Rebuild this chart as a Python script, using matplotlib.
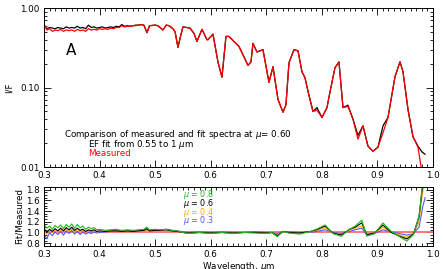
import numpy as np
import matplotlib
matplotlib.use('Agg')
import matplotlib.pyplot as plt
from matplotlib.ticker import (MultipleLocator, LogLocator, NullFormatter,
                               FixedLocator, FixedFormatter, FormatStrFormatter)

plt.rcParams['font.family'] = ['DejaVu Sans']
plt.rcParams['mathtext.fontset'] = 'dejavusans'

# ---- top panel: I/F spectra ----
wl = [0.300, 0.305, 0.310, 0.315, 0.320, 0.325, 0.330, 0.335, 0.340, 0.345,
      0.350, 0.355, 0.360, 0.365, 0.370, 0.375, 0.380, 0.385, 0.390, 0.395,
      0.400, 0.405, 0.410, 0.415, 0.420, 0.425, 0.430, 0.435, 0.440, 0.445,
      0.450, 0.455, 0.460, 0.465, 0.470, 0.475, 0.480, 0.4853, 0.490, 0.500,
      0.505, 0.5141, 0.520, 0.525, 0.5321, 0.536, 0.5411, 0.546, 0.5501, 0.5627,
      0.570, 0.5753, 0.5843, 0.5933, 0.5951, 0.6041, 0.6131, 0.6203, 0.6275, 0.6329,
      0.6419, 0.6509, 0.6671, 0.6725, 0.6761, 0.6833, 0.6941, 0.7049, 0.7121, 0.7211,
      0.7301, 0.7355, 0.7409, 0.7499, 0.7571, 0.7643, 0.7697, 0.7751, 0.7841, 0.7913,
      0.8003, 0.8093, 0.8147, 0.8237, 0.8309, 0.8381, 0.8471, 0.8561, 0.8651, 0.8741,
      0.8831, 0.8921, 0.9011, 0.9101, 0.9191, 0.9317, 0.9407, 0.9461, 0.9551, 0.9641,
      0.9731]

fit = [0.60, 0.55, 0.57, 0.56, 0.55, 0.57, 0.56, 0.55, 0.58, 0.56,
       0.57, 0.56, 0.59, 0.56, 0.57, 0.55, 0.61, 0.57, 0.58, 0.56,
       0.57, 0.58, 0.56, 0.57, 0.58, 0.57, 0.59, 0.58, 0.62, 0.59,
       0.60, 0.59, 0.60, 0.61, 0.61, 0.62, 0.61, 0.49, 0.60, 0.61,
       0.60, 0.53, 0.61, 0.60, 0.55, 0.50, 0.32, 0.45, 0.58, 0.56,
       0.48, 0.38, 0.54, 0.40, 0.40, 0.47, 0.21, 0.135, 0.44, 0.44,
       0.38, 0.33, 0.19, 0.21, 0.36, 0.28, 0.30, 0.116, 0.183, 0.071,
       0.049, 0.061, 0.205, 0.30, 0.29, 0.158, 0.133, 0.090, 0.050, 0.056,
       0.042, 0.056, 0.088, 0.178, 0.21, 0.056, 0.060, 0.040, 0.025, 0.033,
       0.0183, 0.0158, 0.0178, 0.033, 0.042, 0.137, 0.211, 0.158, 0.053, 0.024,
       0.0183]

measured = [0.64, 0.53, 0.55, 0.51, 0.53, 0.52, 0.54, 0.51, 0.53, 0.52,
            0.53, 0.51, 0.54, 0.52, 0.53, 0.51, 0.55, 0.53, 0.54, 0.53,
            0.55, 0.54, 0.55, 0.54, 0.56, 0.55, 0.57, 0.57, 0.60, 0.58,
            0.59, 0.59, 0.60, 0.60, 0.61, 0.62, 0.60, 0.49, 0.60, 0.61,
            0.60, 0.53, 0.61, 0.60, 0.55, 0.50, 0.32, 0.45, 0.58, 0.56,
            0.48, 0.38, 0.54, 0.40, 0.40, 0.47, 0.21, 0.135, 0.44, 0.44,
            0.38, 0.33, 0.19, 0.21, 0.36, 0.28, 0.30, 0.116, 0.183, 0.071,
            0.049, 0.061, 0.205, 0.30, 0.29, 0.158, 0.133, 0.090, 0.050, 0.052,
            0.042, 0.056, 0.088, 0.178, 0.21, 0.056, 0.058, 0.040, 0.0224, 0.033,
            0.0183, 0.0158, 0.0178, 0.027, 0.042, 0.137, 0.211, 0.158, 0.053, 0.024,
            0.0178]

fit_tail_wl = [0.9803, 0.9857]
fit_tail = [0.0155, 0.0145]
meas_tail_wl = [0.9803, 0.983]
meas_tail = [0.0085, 0.006]

# ---- bottom panel: Fit/Measured ratios ----
rwl = [0.300, 0.305, 0.310, 0.315, 0.320, 0.325, 0.330, 0.335, 0.340, 0.345,
       0.350, 0.355, 0.360, 0.365, 0.370, 0.375, 0.380, 0.385, 0.390, 0.395,
       0.400, 0.410, 0.420, 0.430, 0.440, 0.450, 0.460, 0.470, 0.480, 0.485,
       0.490, 0.500, 0.510, 0.520, 0.530, 0.540, 0.550, 0.560, 0.580, 0.600,
       0.620, 0.640, 0.660, 0.680, 0.700, 0.710, 0.720, 0.730, 0.740, 0.760,
       0.780, 0.790, 0.806, 0.820, 0.835, 0.850, 0.860, 0.872, 0.881, 0.895,
       0.910, 0.925, 0.940, 0.953, 0.965, 0.975, 0.982, 0.986]

r08 = [1.15, 1.08, 1.12, 1.06, 1.13, 1.09, 1.14, 1.07, 1.15, 1.10,
       1.16, 1.08, 1.15, 1.09, 1.12, 1.06, 1.10, 1.07, 1.09, 1.05,
       1.06, 1.04, 1.05, 1.06, 1.04, 1.05, 1.04, 1.05, 1.06, 1.10,
       1.05, 1.06, 1.05, 1.06, 1.04, 1.03, 1.00, 0.98, 1.00, 0.98,
       1.00, 0.98, 1.00, 0.99, 0.98, 1.00, 0.92, 1.02, 0.99, 0.97,
       1.02, 1.06, 1.14, 0.98, 0.93, 1.06, 1.12, 1.23, 0.93, 0.98,
       1.18, 1.02, 0.92, 0.84, 0.96, 1.30, 1.95, 1.95]

r06 = [1.08, 1.00, 1.06, 1.02, 1.07, 1.03, 1.08, 1.03, 1.09, 1.05,
       1.10, 1.04, 1.08, 1.04, 1.06, 1.02, 1.05, 1.03, 1.05, 1.02,
       1.03, 1.02, 1.03, 1.03, 1.02, 1.03, 1.02, 1.03, 1.04, 1.07,
       1.03, 1.04, 1.04, 1.05, 1.03, 1.02, 1.00, 0.99, 1.00, 0.99,
       1.00, 0.99, 1.00, 1.00, 0.99, 1.00, 0.94, 1.02, 1.00, 0.99,
       1.02, 1.05, 1.12, 0.99, 0.95, 1.06, 1.10, 1.18, 0.96, 0.99,
       1.14, 1.00, 0.93, 0.88, 0.97, 1.30, 1.95, 1.95]

r04 = [1.04, 0.97, 1.03, 1.00, 1.04, 1.01, 1.05, 1.01, 1.06, 1.02,
       1.07, 1.02, 1.05, 1.02, 1.04, 1.01, 1.03, 1.02, 1.03, 1.01,
       1.02, 1.02, 1.03, 1.03, 1.02, 1.03, 1.02, 1.03, 1.04, 1.05,
       1.03, 1.04, 1.04, 1.05, 1.03, 1.02, 1.00, 0.99, 1.00, 0.99,
       1.00, 0.99, 1.00, 1.00, 0.99, 1.00, 0.96, 1.02, 1.00, 0.99,
       1.01, 1.04, 1.09, 0.99, 0.96, 1.04, 1.08, 1.12, 0.97, 0.99,
       1.10, 1.00, 0.95, 0.91, 0.98, 1.20, 1.80, 1.90]

r03 = [0.98, 0.88, 1.00, 0.94, 1.01, 0.96, 1.02, 0.95, 1.03, 0.98,
       1.04, 0.97, 1.02, 0.96, 1.01, 0.97, 1.00, 0.98, 1.01, 0.99,
       1.00, 1.01, 1.02, 1.03, 1.02, 1.03, 1.03, 1.04, 1.05, 1.05,
       1.04, 1.05, 1.05, 1.06, 1.04, 1.03, 1.01, 1.00, 1.01, 1.00,
       1.01, 1.00, 1.00, 1.01, 1.00, 1.00, 0.98, 1.02, 1.01, 1.00,
       1.00, 1.02, 1.05, 1.00, 0.98, 1.02, 1.05, 1.08, 0.95, 0.98,
       1.05, 1.01, 0.98, 0.95, 0.98, 1.10, 1.50, 1.65]

mu_labels = ['0.8', '0.6', '0.4', '0.3']
mu_colors = ['#1fb81f', 'black', '#ffa500', '#5555ff']

fig = plt.figure(figsize=(4.43, 2.69), dpi=100)
ax1 = fig.add_axes([0.0993, 0.379, 0.878, 0.591])
ax2 = fig.add_axes([0.0993, 0.086, 0.878, 0.219])

fs = 6.3

ax1.plot(wl + fit_tail_wl, fit + fit_tail, color='black', lw=0.9)
ax1.plot(wl + meas_tail_wl, measured + meas_tail, color='red', lw=0.9)
ax1.set_yscale('log')
ax1.set_xlim(0.3, 1.0)
ax1.set_ylim(0.01, 1.0)
ax1.yaxis.set_major_locator(FixedLocator([0.01, 0.1, 1.0]))
ax1.yaxis.set_major_formatter(FixedFormatter(['0.01', '0.10', '1.00']))
ax1.yaxis.set_minor_locator(LogLocator(base=10, subs=np.arange(2, 10)))
ax1.yaxis.set_minor_formatter(NullFormatter())
ax1.set_ylabel('I/F', fontsize=fs, labelpad=5)
ax1.text(0.340, 0.29, 'A', fontsize=11, va='center')
ax1.text(0.541, 0.0259, r'Comparison of measured and fit spectra at $\mu$= 0.60',
         fontsize=fs, ha='center', va='center')
ax1.text(0.379, 0.0194, r'EF fit from 0.55 to 1 $\mu$m', fontsize=fs, va='center')
ax1.text(0.379, 0.0150, 'Measured', fontsize=fs, va='center', color='red')

ax2.axhline(1.0, color='#ff7070', lw=1.3)
for r, c in zip([r08, r06, r04, r03][::-1], mu_colors[::-1]):
    ax2.plot(rwl, r, color=c, lw=0.8)
ax2.set_xlim(0.3, 1.0)
ax2.set_ylim(0.75, 1.85)
ax2.yaxis.set_major_locator(MultipleLocator(0.2))
ax2.yaxis.set_minor_locator(MultipleLocator(0.05))
ax2.yaxis.set_major_formatter(FormatStrFormatter('%.1f'))
ax2.set_ylabel('Fit/Measured', fontsize=fs, labelpad=2)
ax2.set_xlabel(r'Wavelength, $\mu$m', fontsize=fs, labelpad=1)
for i, (lab, c) in enumerate(zip(mu_labels, mu_colors)):
    ax2.text(0.55, 1.70 - i * 0.16, r'$\mu$ = ' + lab, color=c, fontsize=5.8,
             va='center')

for ax in (ax1, ax2):
    ax.xaxis.set_major_locator(MultipleLocator(0.1))
    ax.xaxis.set_minor_locator(MultipleLocator(0.01))
    ax.xaxis.set_major_formatter(FormatStrFormatter('%.1f'))
    ax.tick_params(which='both', direction='in', top=True, right=True, labelsize=fs, width=0.6)
    ax.tick_params(which='major', length=5, pad=3)
    ax.tick_params(which='minor', length=2.5)
    for s in ax.spines.values():
        s.set_linewidth(0.7)

fig.savefig('out.png', dpi=100)
